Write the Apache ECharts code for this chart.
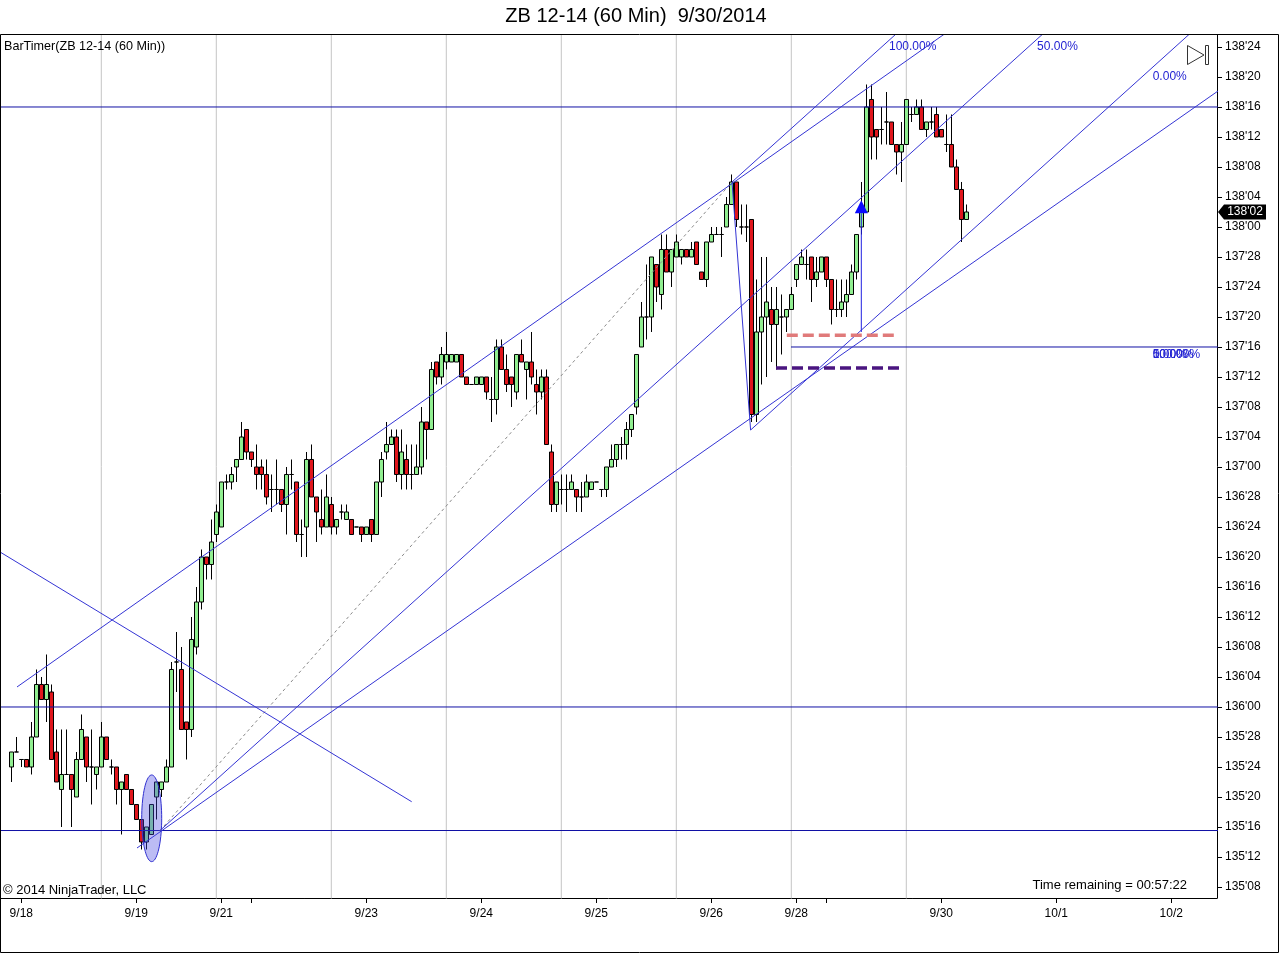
<!DOCTYPE html>
<html><head><meta charset="utf-8">
<script src="https://cdn.jsdelivr.net/npm/echarts@6/dist/echarts.min.js"></script>
<style>html,body{margin:0;padding:0;background:#fff;}#c{width:1280px;height:954px;}</style>
</head><body><div id="c"></div>
<script>
// Prices are stored in 32nds above 135'00 (ZB quotes)
const BASE_HANDLE = 135;
const barOpen = [24,26,25,25,24,28,35,33,34,26,21,23,23,20,25,28,24,23,24,28,24,24,21,23,21,19,17,14,15,20,
21,22,24,38,37,30,29,40,46,52,51,55,56,62,62,64,65,69,66,64,64,63,61,61,61,59,63,62,55,56,
65,60,57,56,59,56,58,57,57,56,56,55,57,55,62,66,67,68,63,65,63,63,64,70,69,78,76,78,78,78,
79,76,75,75,75,76,73,73,80,77,76,74,79,77,78,75,74,76,66,59,61,61,61,61,60,60,61,62,61,61,
64,65,67,67,69,72,80,84,84,91,87,93,90,92,92,93,92,94,90,89,94,95,95,96,99,102,96,96,97,71,
82,84,85,83,84,84,85,89,91,91,92,89,90,92,89,85,85,86,87,90,96,98,113,109,109,110,110,107,106,107,
111,111,112,109,110,111,109,107,107,104,101,97];
const barClose = [26,26,25,24,28,35,33,35,25,22,23,23,21,25,29,24,24,24,28,25,24,21,22,21,19,17,14,16,19,22,
22,24,37,38,29,29,41,46,52,51,54,58,62,62,63,65,68,66,65,63,63,60,61,61,59,63,63,55,55,65,
60,58,56,60,56,57,58,58,55,56,55,56,55,62,65,67,68,63,66,63,63,64,70,69,77,76,79,79,79,79,
76,75,75,76,76,74,73,80,77,75,75,79,78,78,76,74,76,67,59,62,61,61,62,60,60,62,62,62,61,64,
65,67,67,69,71,79,84,84,92,88,93,90,93,94,93,92,93,91,89,94,95,95,95,99,102,97,96,96,71,82,
84,86,83,85,84,85,87,91,92,91,89,90,92,89,85,85,86,87,90,95,98,112,108,108,109,110,107,106,107,113,
111,112,109,110,110,108,108,107,104,101,97,98];
const barHigh = [26,28,25,25,30,37,36,39,35,29,29,29,23,26,31,28,29,24,30,28,25,24,22,23,21,19,17,16,19,22,
22,25,38,42,40,30,44,48,53,52,57,59,62,63,64,65,70,69,66,67,65,65,63,65,61,64,65,62,57,66,
67,60,61,63,60,57,59,59,57,56,56,56,57,62,66,70,69,69,69,67,67,67,72,70,78,78,80,82,79,79,
79,76,75,76,76,76,76,81,81,79,76,79,81,78,82,77,77,77,67,62,63,63,63,61,62,63,62,62,61,64,
67,67,68,70,71,79,86,91,92,91,95,95,93,95,93,93,94,94,90,94,96,96,96,100,103,102,99,99,97,89,
92,92,88,88,87,85,88,91,93,93,92,92,92,92,89,89,89,89,91,95,102,115,115,109,112,114,110,107,110,113,
112,113,113,110,112,112,109,111,111,105,102,99];
const barLow = [22,26,24,24,23,28,33,30,25,22,16,23,16,20,25,22,19,21,24,25,23,19,15,21,19,17,13,13,15,17,
20,22,24,34,29,25,28,39,45,49,49,54,56,61,61,62,65,65,64,61,61,59,58,59,58,55,61,54,52,52,
60,54,55,56,55,55,57,57,55,56,54,55,54,55,60,65,67,62,61,61,61,63,63,65,69,75,75,77,78,78,
76,75,75,75,75,73,70,71,77,74,72,73,78,73,75,71,73,67,58,58,59,58,61,58,58,60,61,62,60,60,
64,64,65,65,68,71,80,81,82,86,85,90,88,92,91,92,92,91,89,88,94,95,92,96,99,96,95,94,70,70,
75,76,78,77,79,82,85,88,91,89,86,88,90,88,83,84,84,84,87,89,95,98,105,105,107,107,107,103,102,107,
110,111,109,108,109,108,108,106,104,101,94,97];

// x axis: bar index; date ticks and session breaks
const dateTickBars = [2,25,42,48,71,94,117,140,157,163,186,209,232];
const dateTickLabels = ['9/18','9/19','9/21','','9/23','9/24','9/25','9/26','9/28','','9/30','10/1','10/2'];
const sessionBreakBars = [18,41,64,87,110,133,156,179];
// y axis ticks in 32nds above 135'00
const priceTicks32 = [8,12,16,20,24,28,32,36,40,44,48,52,56,60,64,68,72,76,80,84,88,92,96,100,104,108,112,116,120];

// drawing objects (bar index, 32nds)
const horizontalLevels = [112, 32, 15.53];
const partialLevel = [[155.94, 80], [260, 80]];
const pitchforkA = [29.74, 15.53];
const pitchforkB = [144.14, 102];
const pitchforkC = [147.86, 68.93];
const trendLine1 = [[1.14, 34.67], [144.08, 101.76]];
const trendLineQ = [[25.14, 13.2], [241.14, 114.04]];
const crossLine = [[-2.26, 52.67], [80.08, 19.37]];
const redDashed = [[155.1, 81.55], [176.74, 81.55]];
const purpleDashed = [[152.94, 77.2], [177.88, 77.2]];
const arrowBar = [170, 98.7];
const arrowStem = [[170, 97.8], [170, 82.0]];
const ellipseMark = {k: 28.08, v: 17.16, rk: 2.0, rv: 5.78};
const pitchforkLabels = [['100.00%', 175.54, 120.04], ['50.00%', 205.16, 120.04], ['0.00%', 228.28, 116.04]];
const fibLabels = [['0.00%', 228.28, 79.03], ['50.00%', 228.28, 79.03], ['100.00%', 228.28, 79.03]];

const FONT = 'Liberation Sans, Arial, sans-serif';
const X_MIN = -2.26, X_MAX = 241.14, Y_MIN = 6.533, Y_MAX = 121.6;

function fmt32(v) {
  const h = Math.floor(v / 32);
  const n = Math.round(v - h * 32);
  return (BASE_HANDLE + h) + "'" + String(n).padStart(2, '0');
}
function extendLine(p, q, kEnd) {
  const s = (q[1] - p[1]) / (q[0] - p[0]);
  return [p, [kEnd, p[1] + s * (kEnd - p[0])]];
}
function lineSeries(points, color, width, type, z) {
  return {type: 'line', data: points, symbol: 'none', silent: true, z: z || 4,
    lineStyle: {color: color, width: width, type: type || 'solid', cap: 'butt', opacity: 1},
    emphasis: {disabled: true}};
}

const candleData = barOpen.map((o, i) => [i, o, barClose[i], barLow[i], barHigh[i]]);
const lastClose = barClose[barClose.length - 1];

const DIAG = '#3434d4';
const HORIZ = '#1010a4';
const series = [];
sessionBreakBars.forEach(k => series.push(lineSeries([[k, -50], [k, 300]], '#c4c4c4', 1, 'solid', 1)));
horizontalLevels.forEach(v => series.push(lineSeries([[-50, v], [400, v]], HORIZ, 1, 'solid', 4)));
series.push(lineSeries(partialLevel, HORIZ, 1, 'solid', 4));

series.push({
  type: 'candlestick', data: candleData, barWidth: 4.3, z: 2, silent: true,
  itemStyle: {color: '#90ee90', color0: '#e0161c', borderColor: '#000', borderColor0: '#000',
    borderColorDoji: '#000', borderWidth: 1},
  emphasis: {disabled: true}
});

// pitchfork
const mid = [(pitchforkB[0] + pitchforkC[0]) / 2, (pitchforkB[1] + pitchforkC[1]) / 2];
const pfSlope = (mid[1] - pitchforkA[1]) / (mid[0] - pitchforkA[0]);
const farK = 400;
series.push(lineSeries([pitchforkA, [farK, pitchforkA[1] + pfSlope * (farK - pitchforkA[0])]], DIAG, 1));
series.push(lineSeries([pitchforkB, [farK, pitchforkB[1] + pfSlope * (farK - pitchforkB[0])]], DIAG, 1));
series.push(lineSeries([pitchforkC, [farK, pitchforkC[1] + pfSlope * (farK - pitchforkC[0])]], DIAG, 1));
series.push(lineSeries([pitchforkB, pitchforkC], DIAG, 1));
series.push(lineSeries([pitchforkA, pitchforkB], '#8a8a8a', 1, [3, 3]));
series.push(lineSeries(extendLine(trendLine1[0], trendLine1[1], farK), DIAG, 1));
series.push(lineSeries(extendLine(trendLineQ[0], trendLineQ[1], farK), DIAG, 1));
series.push(lineSeries(crossLine, DIAG, 1));
series.push(lineSeries(redDashed, '#e07a7a', 3.5, [11, 5], 5));
series.push(lineSeries(purpleDashed, '#4a1580', 3.5, [11, 5], 5));
series.push(lineSeries(arrowStem, '#2020e0', 1, 'solid', 6));

series.push({
  type: 'custom', z: 6, silent: true, data: [[ellipseMark.k, ellipseMark.v]],
  renderItem: function (params, api) {
    const c = api.coord([ellipseMark.k, ellipseMark.v]);
    const s = api.size([ellipseMark.rk, ellipseMark.rv]);
    const pts = [];
    for (let i = 0; i < 72; i++) {
      const a = i / 72 * Math.PI * 2;
      pts.push([c[0] + s[0] * Math.cos(a), c[1] + s[1] * Math.sin(a)]);
    }
    return {type: 'polygon', shape: {points: pts},
      style: {fill: 'rgba(70,70,225,0.36)', stroke: '#3030d0', lineWidth: 1}};
  }
});

series.push({
  type: 'scatter', z: 7, silent: true, data: [arrowBar], symbol: 'triangle', symbolSize: [13, 13],
  itemStyle: {color: '#0a0aff', opacity: 1}
});

series.push({
  type: 'custom', z: 7, silent: true,
  data: pitchforkLabels.concat(fibLabels).map(d => [d[1], d[2], d[0]]),
  renderItem: function (params, api) {
    const p = api.coord([api.value(0), api.value(1)]);
    const txt = pitchforkLabels.concat(fibLabels)[params.dataIndex][0];
    return {type: 'text', x: p[0], y: p[1],
      style: {text: txt, fill: '#2323d2', font: '12px ' + FONT, textAlign: 'left', textVerticalAlign: 'middle'}};
  }
});

const staticGraphics = [
  {id: 'frame', type: 'rect', shape: {x: 0.5, y: 34.5, width: 1278, height: 918},
    style: {fill: null, stroke: '#000', lineWidth: 1}, z: 100, silent: true},
  {id: 'title', type: 'text', x: 636, y: 16, style: {text: 'ZB 12-14 (60 Min)  9/30/2014',
    font: '20px ' + FONT, fill: '#000', textAlign: 'center', textVerticalAlign: 'middle'}},
  {id: 'bartimer', type: 'text', x: 4, y: 47, style: {text: 'BarTimer(ZB 12-14 (60 Min))',
    font: '12.6px ' + FONT, fill: '#000', textAlign: 'left', textVerticalAlign: 'middle'}, z: 100},
  {id: 'copy', type: 'text', x: 3, y: 890, style: {text: '\u00a9 2014 NinjaTrader, LLC',
    font: '13px ' + FONT, fill: '#000', textAlign: 'left', textVerticalAlign: 'middle'}, z: 100},
  {id: 'timer', type: 'text', x: 1187, y: 885, style: {text: 'Time remaining = 00:57:22',
    font: '13px ' + FONT, fill: '#000', textAlign: 'right', textVerticalAlign: 'middle'}, z: 100},
  {id: 'playTri', type: 'polygon', shape: {points: [[1187.5, 45.5], [1204, 55], [1187.5, 64.5]]},
    style: {fill: '#fff', stroke: '#333', lineWidth: 1}, z: 100},
  {id: 'playBar', type: 'rect', shape: {x: 1205.5, y: 45.5, width: 3, height: 19},
    style: {fill: '#fff', stroke: '#333', lineWidth: 1}, z: 100}
];

const option = {
  animation: false,
  backgroundColor: '#fff',
  textStyle: {fontFamily: FONT},
  grid: {left: 0, right: 63, top: 35, bottom: 56, containLabel: false},
  xAxis: {
    type: 'value', min: X_MIN, max: X_MAX, position: 'bottom',
    axisLine: {show: true, onZero: false, lineStyle: {color: '#000', width: 1}},
    axisTick: {show: true, length: 5, inside: false, customValues: dateTickBars, lineStyle: {color: '#000'}},
    axisLabel: {show: true, customValues: dateTickBars, color: '#000', fontSize: 12, fontFamily: FONT, margin: 10,
      formatter: function (v) { const i = dateTickBars.indexOf(v); return i >= 0 ? dateTickLabels[i] : ''; }},
    splitLine: {show: false}
  },
  yAxis: {
    type: 'value', position: 'right', min: Y_MIN, max: Y_MAX,
    axisLine: {show: true, onZero: false, lineStyle: {color: '#000', width: 1}},
    axisTick: {show: true, length: 5, inside: false, customValues: priceTicks32, lineStyle: {color: '#000'}},
    axisLabel: {show: true, customValues: priceTicks32, color: '#000', fontSize: 12, fontFamily: FONT, margin: 8,
      formatter: function (v) { return fmt32(v); }},
    splitLine: {show: false}
  },
  graphic: staticGraphics,
  series: series
};

const chart = echarts.init(document.getElementById('c'));
chart.setOption(option);

const yTag = chart.convertToPixel({yAxisIndex: 0}, lastClose);
chart.setOption({graphic: staticGraphics.concat([
  {id: 'tagBg', type: 'polygon', z: 100,
    shape: {points: [[1218, yTag], [1224, yTag - 7.5], [1266, yTag - 7.5], [1266, yTag + 7.5], [1224, yTag + 7.5]]},
    style: {fill: '#000'}},
  {id: 'tagText', type: 'text', x: 1245, y: yTag, z: 101,
    style: {text: fmt32(lastClose), font: '12px ' + FONT, fill: '#fff', textAlign: 'center', textVerticalAlign: 'middle'}}
])});
</script>
</body></html>
